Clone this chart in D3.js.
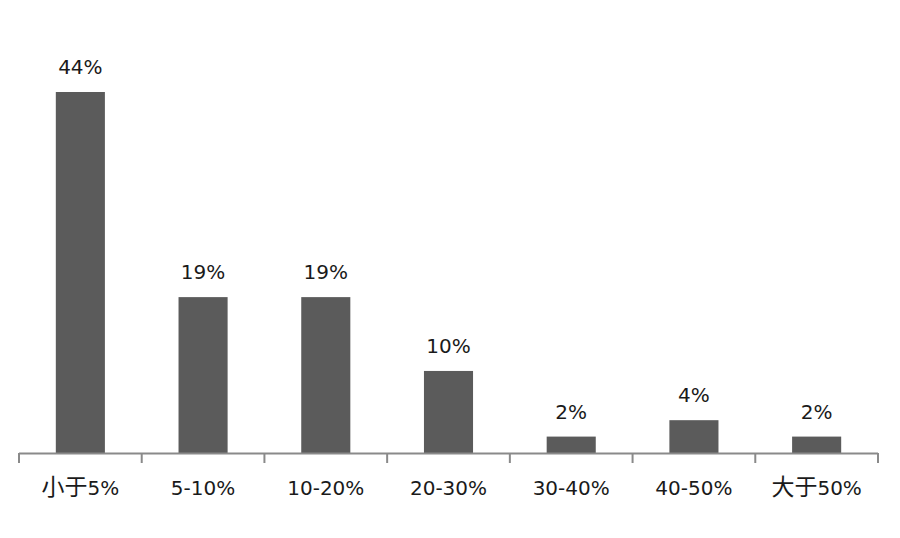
<!DOCTYPE html>
<html><head><meta charset="utf-8">
<script src="https://cdn.jsdelivr.net/npm/d3@7"></script>
<style>body{margin:0;background:#fff}</style>
</head><body><svg id="c" width="900" height="538"></svg>
<script>
const categories = ["小于5%","5-10%","10-20%","20-30%","30-40%","40-50%","大于50%"];
const values = [44,19,19,10,2,4,2];
const valueLabels = ["44%","19%","19%","10%","2%","4%","2%"];

const svg = d3.select("#c");
const x0 = 19, x1 = 878, yBase = 453, yTop = 92;
const x = d3.scaleBand().domain(categories).range([x0, x1]).paddingInner(0.6).paddingOuter(0.3);
const y = d3.scaleLinear().domain([0, 44]).range([yBase, yTop]);
const font = "'DejaVu Sans', 'Noto Sans CJK SC', sans-serif";

svg.selectAll("rect.bar").data(values).enter().append("rect")
  .attr("class","bar")
  .attr("x",(d,i)=>x(categories[i]))
  .attr("width",x.bandwidth())
  .attr("y",d=>y(d))
  .attr("height",d=>yBase-y(d))
  .attr("fill","#5b5b5b");

svg.selectAll("text.val").data(values).enter().append("text")
  .attr("class","val")
  .attr("x",(d,i)=>x(categories[i])+x.bandwidth()/2)
  .attr("y",d=>y(d)-18)
  .attr("text-anchor","middle")
  .attr("font-family",font).attr("font-size",20).attr("fill","#1a1a1a")
  .text((d,i)=>valueLabels[i]);

// axis
const xs = d3.scaleLinear().domain([0, categories.length]).range([x0, x1]);
svg.append("line").attr("x1",x0).attr("x2",x1).attr("y1",yBase+0.5).attr("y2",yBase+0.5)
  .attr("stroke","#8a8a8a").attr("stroke-width",2);
svg.selectAll("line.tick").data(d3.range(categories.length+1)).enter().append("line")
  .attr("class","tick")
  .attr("x1",d=>xs(d)).attr("x2",d=>xs(d))
  .attr("y1",yBase).attr("y2",yBase+10)
  .attr("stroke","#8a8a8a").attr("stroke-width",2);

const cats = svg.selectAll("text.cat").data(categories).enter().append("text")
  .attr("class","cat")
  .attr("x",d=>x(d)+x.bandwidth()/2)
  .attr("y",495)
  .attr("text-anchor","middle")
  .attr("font-family",font).attr("font-size",20).attr("fill","#1a1a1a");
cats.each(function(d){
  const parts = d.match(/[\u4e00-\u9fff]+|[^\u4e00-\u9fff]+/g);
  const t = d3.select(this);
  parts.forEach(p=>{
    const cjk = /[\u4e00-\u9fff]/.test(p);
    t.append("tspan").attr("font-size", cjk?23:20)
      .attr("font-family", cjk?"'Noto Sans CJK SC', sans-serif":font).text(p);
  });
});
</script></body></html>
